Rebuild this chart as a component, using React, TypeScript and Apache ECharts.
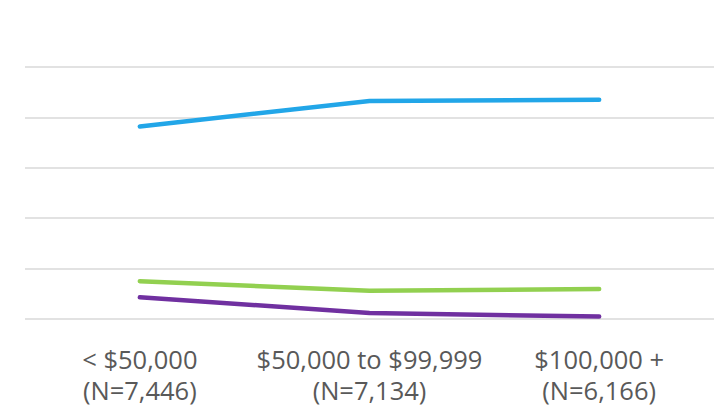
import React, { useEffect, useRef } from "react";
import * as echarts from "echarts";

// Income brackets with respondent counts
const categories = ["< $50,000\n(N=7,446)", "$50,000 to $99,999\n(N=7,134)", "$100,000 +\n(N=6,166)"];

// Percent values per bracket
const blueValues = [38.2, 43.25, 43.5];
const greenValues = [7.5, 5.6, 5.95];
const purpleValues = [4.3, 1.2, 0.48];

// Y axis range (labels hidden, only gridlines drawn)
const yMin = 0;
const yMax = 50;
const yStep = 10;

export default function App() {
  const ref = useRef<HTMLDivElement>(null);

  useEffect(() => {
    if (!ref.current) return;
    const chart = echarts.init(ref.current, undefined, { renderer: "svg" });
    const line = (name: string, data: number[], color: string) => ({
      name,
      type: "line",
      data,
      symbol: "none",
      lineStyle: { color, width: 4.5, cap: "round", join: "round" },
      itemStyle: { color },
    });
    chart.setOption({
      animation: false,
      backgroundColor: "#ffffff",
      grid: { left: 25, right: 1, top: 67, bottom: 94, containLabel: false },
      xAxis: {
        type: "category",
        data: categories,
        boundaryGap: true,
        axisLine: { show: false },
        axisTick: { show: false },
        axisLabel: {
          color: "#595959",
          fontFamily: "Open Sans",
          fontSize: 25.5,
          lineHeight: 31,
          margin: 24,
          interval: 0,
        },
      },
      yAxis: {
        type: "value",
        min: yMin,
        max: yMax,
        interval: yStep,
        axisLine: { show: false },
        axisTick: { show: false },
        axisLabel: { show: false },
        splitLine: { lineStyle: { color: "#d9d9d9", width: 1.5 } },
      },
      series: [
        line("Line 1", blueValues, "#22a6e8"),
        line("Line 2", greenValues, "#92d050"),
        line("Line 3", purpleValues, "#7030a0"),
      ],
    });
    return () => chart.dispose();
  }, []);

  return (
    <div
      ref={ref}
      style={{ position: "fixed", left: 0, top: 0, width: 715, height: 413 }}
    />
  );
}
